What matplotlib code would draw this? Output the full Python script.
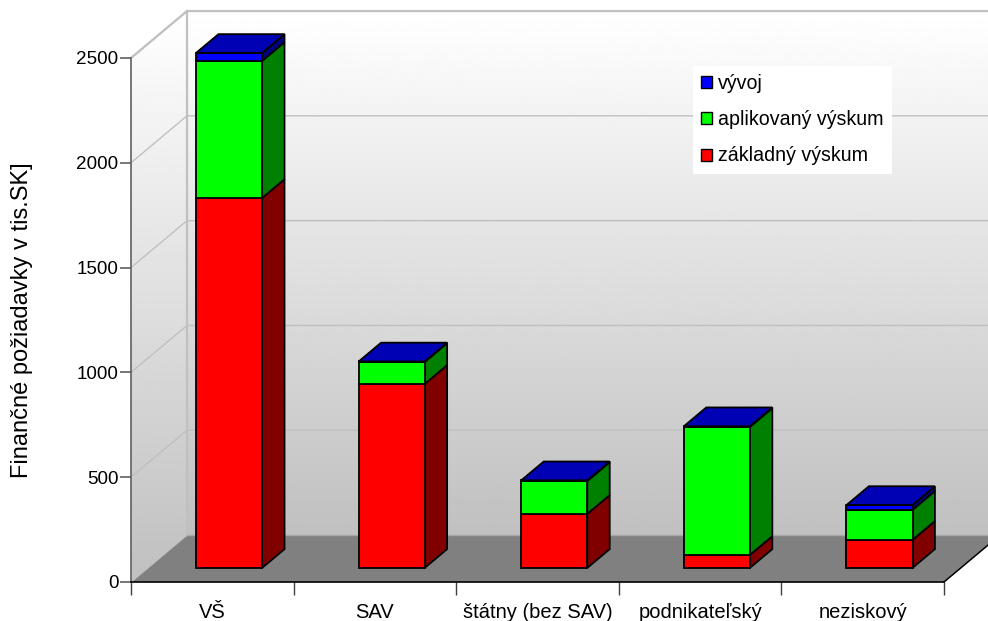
import numpy as np
import matplotlib
matplotlib.use('Agg')
import matplotlib.pyplot as plt
from matplotlib.patches import Patch, Polygon

plt.rcParams['font.family'] = ['Liberation Sans', 'DejaVu Sans']

# Data
categories = ['VŠ', 'SAV', 'štátny (bez SAV)', 'podnikateľský', 'neziskový']
zakladny = [1765, 878, 258, 62, 134]
aplikovany = [654, 105, 157, 611, 143]
vyvoj = [38, 2, 3, 3, 23]
y_ticks = [0, 500, 1000, 1500, 2000, 2500]

series = [zakladny, aplikovany, vyvoj]
labels = ['základný výskum', 'aplikovaný výskum', 'vývoj']
front_colors = ['#ff0000', '#00ff00', '#0000ff']
side_colors = ['#800000', '#008000', '#000080']
top_color = '#0000b4'

# Fake 3D depth, in axis units
depth_x = 56 / 162.6
depth_y = 224
bar_width = 0.406
bar_d0 = 0.3   # front of the bars, fraction of the depth
bar_d = 0.4    # depth of the bars
wall_color = '#c0c0c0'

fig = plt.figure(figsize=(9.88, 6.21), dpi=100)
ax = fig.add_axes([131 / 988, 39 / 621, 813 / 988, 524 / 621])
ax.set_xlim(0, 5)
ax.set_ylim(0, 2500)

# Walls with a white to grey gradient
grad = np.linspace(1, 0.753, 256).reshape(-1, 1)
back = ax.imshow(grad, extent=[depth_x, 5 + depth_x, depth_y, 2500 + depth_y], aspect='auto',
                 cmap='gray', vmin=0, vmax=1, zorder=0)
back.set_clip_on(False)
side = ax.imshow(grad, extent=[0, depth_x, 0, 2500 + depth_y], aspect='auto',
                 cmap='gray', vmin=0, vmax=1, zorder=0)
side.set_clip_box(fig.bbox)
side.set_clip_path(Polygon([(0, 0), (depth_x, depth_y), (depth_x, 2500 + depth_y), (0, 2500)],
                           transform=ax.transData))
ax.set_xlim(0, 5)
ax.set_ylim(0, 2500)

# Floor
ax.add_patch(Polygon([(0, 0), (5, 0), (5 + depth_x, depth_y), (depth_x, depth_y)], closed=True,
                     fc='#808080', ec='none', zorder=1, clip_on=False))
ax.plot([5, 5 + depth_x], [0, depth_y], color='black', lw=1.1, zorder=1.5, clip_on=False)

# Grid lines on the walls
for v in y_ticks[1:]:
    ax.plot([0, depth_x, 5 + depth_x], [v, v + depth_y, v + depth_y], color=wall_color, lw=1,
            zorder=1, clip_on=False)
ax.plot([depth_x, depth_x], [depth_y, 2500 + depth_y], color=wall_color, lw=1.6, zorder=1, clip_on=False)
ax.plot([0, depth_x, 5 + depth_x], [2500, 2500 + depth_y, 2500 + depth_y], color=wall_color, lw=1.6,
        zorder=1, clip_on=False)
ax.plot([0, depth_x], [0, depth_y], color=wall_color, lw=1, zorder=1, clip_on=False)
ax.plot([depth_x, 5 + depth_x], [depth_y, depth_y], color='#a8a8a8', lw=1, zorder=1, clip_on=False)

# Stacked 3D bars
ex = bar_d * depth_x
ey = bar_d * depth_y
for i in range(len(categories)):
    x0 = i + 0.5 - bar_width / 2 + bar_d0 * depth_x
    x1 = x0 + bar_width
    base = bar_d0 * depth_y
    for s, values in enumerate(series):
        y0 = base
        y1 = base + values[i]
        base = y1
        ax.add_patch(Polygon([(x1, y0), (x1 + ex, y0 + ey), (x1 + ex, y1 + ey), (x1, y1)], closed=True,
                             fc=side_colors[s], ec='black', lw=1.3, zorder=3 + i, clip_on=False))
        ax.add_patch(Polygon([(x0, y0), (x1, y0), (x1, y1), (x0, y1)], closed=True,
                             fc=front_colors[s], ec='black', lw=1.3, zorder=3 + i, clip_on=False))
    ax.add_patch(Polygon([(x0, base), (x1, base), (x1 + ex, base + ey), (x0 + ex, base + ey)], closed=True,
                         fc=top_color, ec='black', lw=1.3, zorder=3 + i, clip_on=False))

# Axes
for name in ['top', 'right']:
    ax.spines[name].set_visible(False)
ax.spines['left'].set_color('#606060')
ax.spines['left'].set_linewidth(1.2)
ax.spines['bottom'].set_color('black')
ax.spines['bottom'].set_linewidth(1.2)
ax.set_yticks(y_ticks)
ax.tick_params(axis='y', length=8, width=1.2, color='#606060', labelsize=13.6, pad=1)
ax.set_xticks(range(6))
ax.set_xticklabels([])
ax.set_xticks(np.arange(5) + 0.5, categories, minor=True)
ax.tick_params(axis='x', which='major', length=9, width=1, color='#404040')
ax.tick_params(axis='x', which='minor', length=0, labelsize=14.5, pad=15)
fig.text(22 / 988, 1 - 320 / 621, 'Finančné požiadavky v tis.SK]', rotation=90, fontsize=17,
         ha='center', va='center')

# Legend
handles = [Patch(fc=front_colors[s], ec='black', lw=1) for s in [2, 1, 0]]
leg = fig.legend(handles, [labels[s] for s in [2, 1, 0]], loc='upper left',
                 bbox_to_anchor=(693 / 988, 1 - 66 / 621), frameon=True, fontsize=14.1,
                 handlelength=0.56, handleheight=0.56, handletextpad=0.31, labelspacing=0.88,
                 borderpad=0.41, borderaxespad=0, fancybox=False, framealpha=1, edgecolor='none')
leg.set_zorder(20)

plt.savefig('out.png', dpi=100)
